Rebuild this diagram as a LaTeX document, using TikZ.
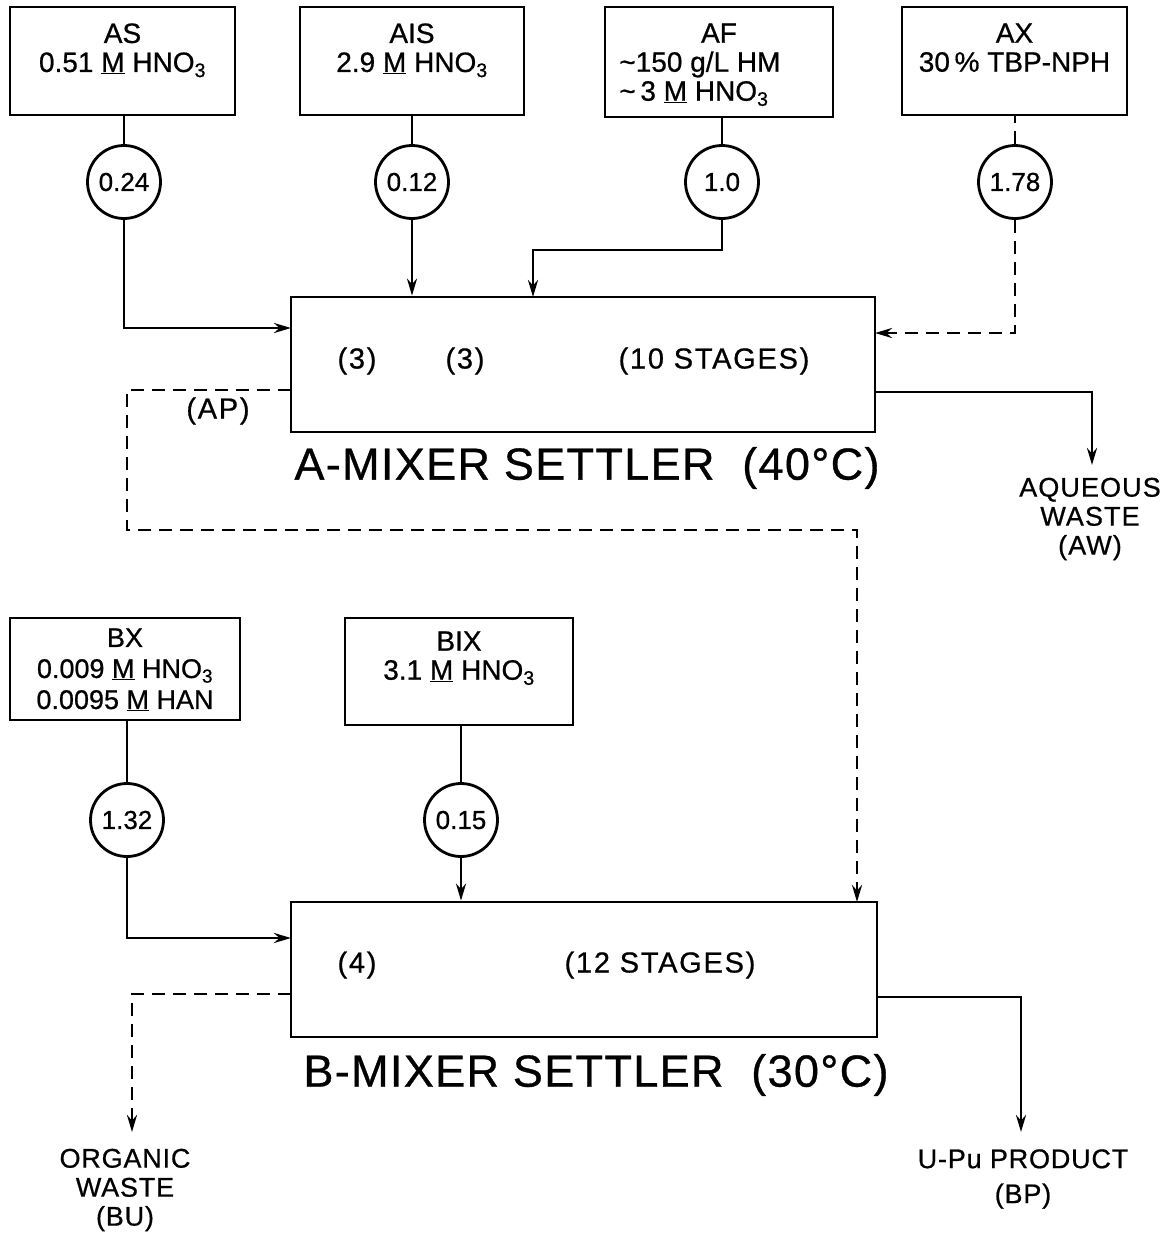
\documentclass[tikz,border=0pt]{standalone}
\usepackage{fontspec}
\setmainfont{Liberation Sans}[FakeBold=0.7]
\usetikzlibrary{arrows.meta}
\begin{document}
\begin{tikzpicture}[x=1pt,y=-1pt,line width=2.8pt,
  feed/.style={draw,line width=2.8pt,inner sep=0pt},
  btxt/.style={inner sep=0pt,anchor=north,align=center,font=\fontsize{28}{29}\selectfont},
  rate/.style={draw,circle,line width=2.8pt,minimum size=73pt,inner sep=0pt,font=\fontsize{26}{26}\selectfont},
  lbl/.style={inner sep=0pt,align=center,font=\fontsize{29}{29}\selectfont\addfontfeatures{LetterSpace=6}},
  big/.style={inner sep=0pt,font=\fontsize{45}{45}\selectfont\addfontfeatures{LetterSpace=3}},
  arr/.style={-{Stealth[length=17pt,width=10pt]}},
  dsh/.style={dash pattern=on 13pt off 8pt}]
\useasboundingbox (0,0) rectangle (1175,1235);
% feed boxes
\node[feed,minimum width=225pt,minimum height=108pt] (AS) at (122.5,61) {};
\node[feed,minimum width=224pt,minimum height=108pt] (AIS) at (412,61) {};
\node[feed,minimum width=228pt,minimum height=110pt] (AF) at (719,62) {};
\node[feed,minimum width=225pt,minimum height=108pt] (AX) at (1014.5,61) {};
\node[btxt] (ASt) at (122.5,22) {AS\\0.51 \underline{M} HNO\textsubscript{3}};
\node[btxt] (AISt) at (412,22) {AIS\\2.9 \underline{M} HNO\textsubscript{3}};
\node[btxt] (AFh) at (719,22) {AF};
\node[btxt,anchor=north west,align=left] (AFt) at (618,50) {\textasciitilde150 g/L HM\\\textasciitilde\,3 \underline{M} HNO\textsubscript{3}};
\node[btxt] (AXt) at (1014.5,22) {AX\\30\,\% TBP-NPH};
% rate circles
\node[rate] (c1) at (124,182) {0.24};
\node[rate] (c2) at (412,182) {0.12};
\node[rate] (c3) at (722,182) {1.0};
\node[rate] (c4) at (1015,182) {1.78};
% A mixer settler
\node[feed,minimum width=584pt,minimum height=135pt] (A) at (583,364.5) {};
\node[lbl] (A3a) at (357,361) {(3)};
\node[lbl] (A3b) at (465,361) {(3)};
\node[lbl] (A10) at (714,361) {(10 STAGES)};
\node[big] (Alab) at (587,468) {A-MIXER SETTLER\ \ (40°C)};
\node[lbl] (APt) at (218,411) {(AP)};
\node[lbl,font=\fontsize{27}{29}\selectfont\addfontfeatures{LetterSpace=4}] (AWt) at (1090,519) {AQUEOUS\\WASTE\\(AW)};
% B feeds
\node[feed,minimum width=230pt,minimum height=102pt] (BX) at (125,669) {};
\node[feed,minimum width=228pt,minimum height=107pt] (BIX) at (459,671.5) {};
\node[btxt,font=\fontsize{27}{31}\selectfont] (BXt) at (125,627) {BX\\0.009 \underline{M} HNO\textsubscript{3}\\0.0095 \underline{M} HAN};
\node[btxt] (BIXt) at (459,630) {BIX\\3.1 \underline{M} HNO\textsubscript{3}};
\node[rate] (c5) at (127,820) {1.32};
\node[rate] (c6) at (461,820) {0.15};
% B mixer settler
\node[feed,minimum width=586pt,minimum height=135pt] (B) at (584,969.5) {};
\node[lbl] (B4) at (357,965) {(4)};
\node[lbl] (B12) at (660,965) {(12 STAGES)};
\node[big] (Blab) at (596,1075) {B-MIXER SETTLER\ \ (30°C)};
\node[lbl,font=\fontsize{27}{29}\selectfont\addfontfeatures{LetterSpace=3}] (BUt) at (125,1190) {ORGANIC\\WASTE\\(BU)};
\node[lbl,font=\fontsize{27}{35}\selectfont\addfontfeatures{LetterSpace=3}] (BPt) at (1023,1179) {U-Pu PRODUCT\\(BP)};
% coordinates
\coordinate (Ain1) at (291,328);
\coordinate (AFk) at (533,250);
\coordinate (Ain3) at (533,297);
\coordinate (Ain4) at (875,333);
\coordinate (Aout1) at (291,390);
\coordinate (APk) at (127,530);
\coordinate (Bin3) at (857,902);
\coordinate (Aout2) at (875,392);
\coordinate (AWend) at (1092,465);
\coordinate (Bin1) at (291,938);
\coordinate (Bout1) at (291,994);
\coordinate (BUend) at (132,1132);
\coordinate (Bout2) at (877,997);
\coordinate (BPend) at (1021,1132);
% connectors A
\draw (c1.north) -- (c1.north |- AS.south);
\draw[arr] (c1.south) |- (Ain1);
\draw (c2.north) -- (c2.north |- AIS.south);
\draw[arr] (c2.south) -- (c2.south |- A.north);
\draw (c3.north) -- (c3.north |- AF.south);
\draw[arr] (c3.south) |- (AFk) -- (Ain3);
\draw[dsh] (c4.north) -- (c4.north |- AX.south);
\draw[dsh,arr] (c4.south) |- (Ain4);
\draw[dsh,arr] (Aout1) -| (APk) -| (Bin3);
\draw[arr] (Aout2) -| (AWend);
% connectors B
\draw (c5.north) -- (c5.north |- BX.south);
\draw[arr] (c5.south) |- (Bin1);
\draw (c6.north) -- (c6.north |- BIX.south);
\draw[arr] (c6.south) -- (c6.south |- B.north);
\draw[dsh,arr] (Bout1) -| (BUend);
\draw[arr] (Bout2) -| (BPend);
\end{tikzpicture}
\end{document}
